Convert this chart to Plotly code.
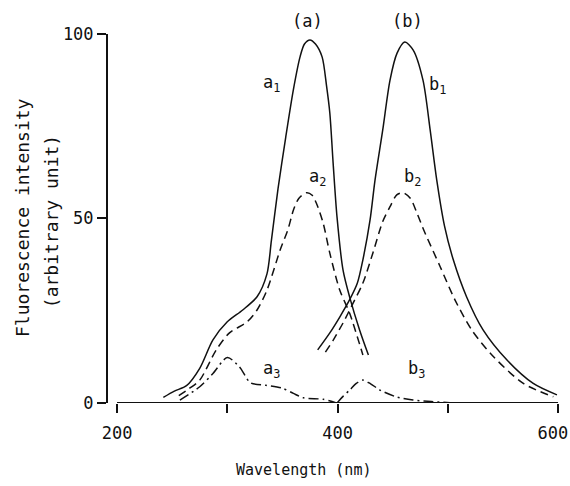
import plotly.graph_objects as go

# ── Data ───────────────────────────────────────────────────────────────────────
a1_x = [242, 252, 263, 275, 287, 300, 314, 327, 336, 340, 346, 353, 360, 366, 370, 375,
        380, 386, 390, 393, 396, 399.5, 405, 411, 420, 428]
a1_y = [1.5, 3.2, 4.7, 9.4, 17.1, 22, 25.2, 28.8, 35, 44, 58, 72, 85, 93.8, 97.3, 98.4,
        97.3, 93.8, 86, 78.6, 65, 50.5, 36, 28.7, 19.8, 13]

a2_x = [256, 265, 275, 290, 302, 318, 327, 336, 348, 355, 360, 365, 372, 377, 381, 387,
        393, 402, 411, 423]
a2_y = [2, 3.8, 6.2, 14.4, 19, 22, 25.2, 30.6, 41.5, 47, 52.3, 55.5, 57, 56.3, 54, 48.7,
        40.6, 30.6, 24.3, 13]

a3_x = [257, 275, 287, 300, 311, 321, 335, 350, 360, 369, 387, 399]
a3_y = [0.8, 4.4, 8, 12.3, 9.8, 5.5, 4.8, 4, 2.6, 1.4, 1, 0]

b1_x = [382, 393, 402, 411, 418, 423, 429.5, 434, 441, 447.6, 454, 461, 468.5, 477.5,
        484, 490, 497, 505, 517, 532, 553.5, 577.5, 599]
b1_y = [14.4, 19, 23.3, 28, 32.5, 38.8, 49.6, 60.4, 74, 87.5, 94.8, 97.8, 95.7, 87.5,
        74, 60.4, 48, 38.8, 28.8, 19.8, 11.7, 5.3, 2.2]

b2_x = [389, 396, 405, 414, 423, 432, 441, 447.6, 453.7, 459.4, 466, 472, 478, 493,
        506.6, 521.7, 541.3, 568.5, 595.7]
b2_y = [13.8, 17, 21.7, 27, 32.5, 40.6, 49.2, 53.2, 56.4, 57, 55.5, 51.5, 47, 37,
        27.9, 19.8, 12.6, 5.3, 1.7]

b3_x = [399.5, 405, 411, 417, 423, 430, 438.5, 454, 468.5, 485, 502]
b3_y = [0, 1.8, 3.5, 5.3, 6.2, 5.2, 3.5, 1.6, 0.8, 0.4, 0.1]

x_ticks = [200, 300, 400, 500, 600]
# trailing no-break space nudges the last label left so it stays inside the page
x_tick_labels = ["200", "", "400", "", "600\u00a0"]
y_ticks = [0, 50, 100]

# ── Style ──────────────────────────────────────────────────────────────────────
INK = "#111111"
FONT = "DejaVu Sans Mono, monospace"
DASH = "8px,5px"
DASHDOT = "10px,4px,2px,4px"

fig = go.Figure()

for xs, ys, dash in [
    (a1_x, a1_y, "solid"), (a2_x, a2_y, DASH), (a3_x, a3_y, DASHDOT),
    (b1_x, b1_y, "solid"), (b2_x, b2_y, DASH), (b3_x, b3_y, DASHDOT),
]:
    fig.add_trace(go.Scatter(
        x=xs, y=ys, mode="lines",
        line=dict(color=INK, width=1.5, dash=dash, shape="spline", smoothing=0.8),
        showlegend=False, hoverinfo="skip",
    ))

# axis lines (x axis only spans 200-600, y axis only 0-100, as in the original)
fig.add_shape(type="line", xref="x", yref="y", x0=200, x1=600, y0=0, y1=0,
              line=dict(color=INK, width=2))
fig.add_shape(type="line", xref="paper", yref="y", x0=0, x1=0, y0=-0.5, y1=100,
              line=dict(color=INK, width=2))

# curve labels
labels = [
    ("(a)", 373, 103.5), ("(b)", 463.5, 103.5),
    ("a<sub>1</sub>", 340, 86.5), ("b<sub>1</sub>", 491, 86),
    ("a<sub>2</sub>", 381.5, 61), ("b<sub>2</sub>", 468, 61),
    ("a<sub>3</sub>", 340.5, 9.2), ("b<sub>3</sub>", 471.5, 9),
]
for text, x, y in labels:
    fig.add_annotation(x=x, y=y, xref="x", yref="y", text=text, showarrow=False,
                       font=dict(family=FONT, size=17, color=INK))

# axis titles
title_font = dict(family=FONT, size=18, color=INK)
fig.add_annotation(x=-0.184, y=0.471, xref="paper", yref="paper", textangle=-90,
                   xanchor="center", yanchor="middle",
                   text="Fluorescence intensity", showarrow=False, font=title_font)
fig.add_annotation(x=-0.122, y=0.461, xref="paper", yref="paper", textangle=-90,
                   xanchor="center", yanchor="middle",
                   text="(arbitrary unit)", showarrow=False, font=title_font)
fig.add_annotation(x=0.431, y=-0.170, xref="paper", yref="paper",
                   xanchor="center", yanchor="middle",
                   text="Wavelength (nm)", showarrow=False,
                   font=dict(family=FONT, size=15, color=INK))

fig.update_layout(
    width=570, height=486,
    margin=dict(l=107, r=7, t=10, b=83),
    paper_bgcolor="white", plot_bgcolor="white",
    font=dict(family=FONT, size=17, color=INK),
    xaxis=dict(range=[190.9, 604.5], tickvals=x_ticks, ticktext=x_tick_labels,
               ticks="outside", ticklen=9, tickwidth=2, tickcolor=INK,
               ticklabelstandoff=6, ticklabeloverflow="allow", automargin=False,
               showgrid=False, zeroline=False, showline=False),
    yaxis=dict(range=[0, 106.5], tickvals=y_ticks, ticks="outside", ticklen=9,
               tickwidth=2, tickcolor=INK, automargin=False, showgrid=False,
               zeroline=False, showline=False),
)

# drop the default 8px page margin so the figure fills the window exactly
fig.write_html("out.html", config={"displayModeBar": False},
               post_script="document.body.style.margin = '0';")
